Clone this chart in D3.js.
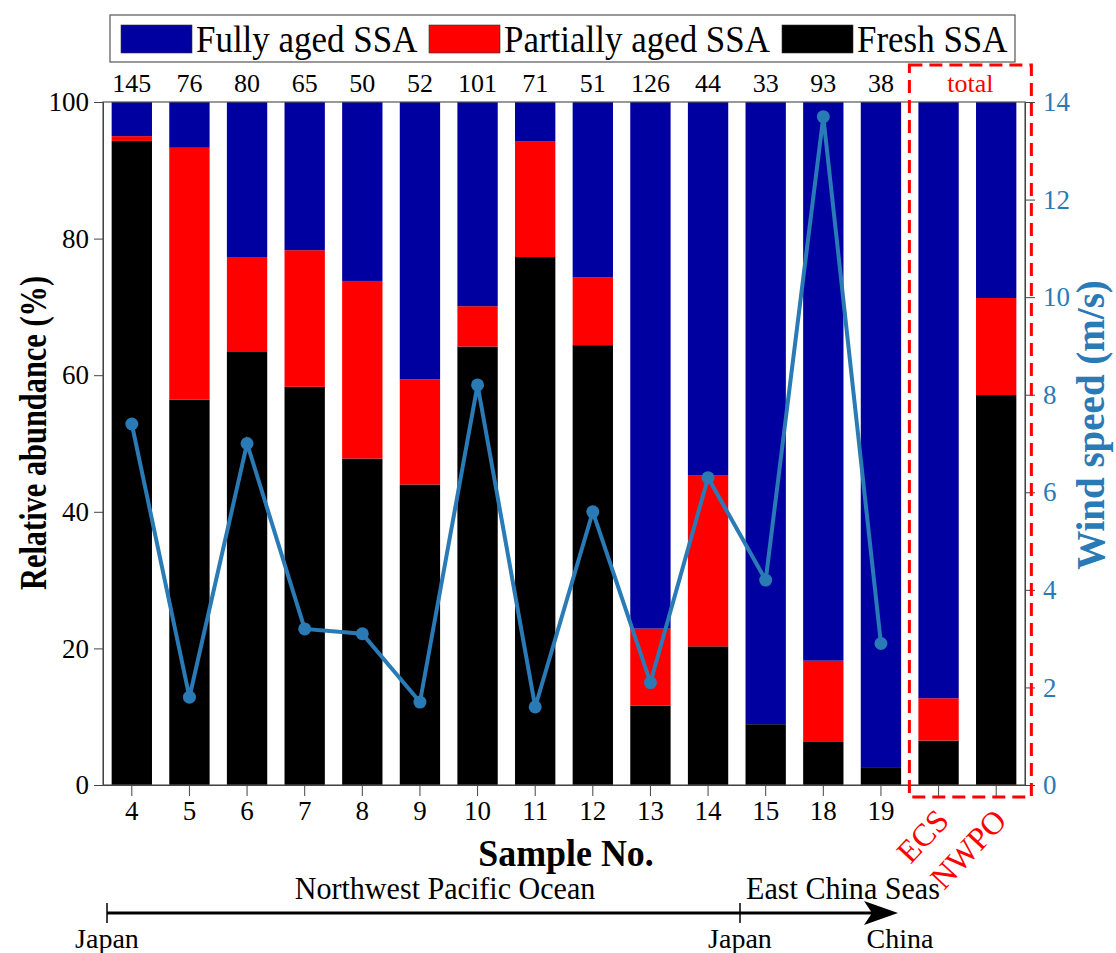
<!DOCTYPE html>
<html>
<head>
<meta charset="utf-8">
<script src="https://cdn.jsdelivr.net/npm/d3@7"></script>
<style>
  body { margin: 0; background: #fff; }
  text { font-family: "Liberation Serif", "Times New Roman", serif; }
</style>
</head>
<body>
<div id="chart"></div>
<script>
// data
const samples = ["4", "5", "6", "7", "8", "9", "10", "11", "12", "13", "14", "15", "18", "19", "ECS", "NWPO"];
const counts = [145, 76, 80, 65, 50, 52, 101, 71, 51, 126, 44, 33, 93, 38];
const fresh = [94.3, 56.4, 63.5, 58.3, 47.8, 44.0, 64.2, 77.3, 64.4, 11.6, 20.3, 8.9, 6.3, 2.5, 6.5, 57.1];
const partial = [0.7, 36.9, 13.8, 20.0, 26.0, 15.4, 5.9, 16.9, 9.9, 11.3, 25.0, 0, 11.9, 0, 6.2, 14.2];
const windSpeed = [7.4, 1.8, 7.0, 3.2, 3.1, 1.7, 8.2, 1.6, 5.6, 2.1, 6.3, 4.2, 13.7, 2.9];
const leftTicks = [0, 20, 40, 60, 80, 100];
const rightTicks = [0, 2, 4, 6, 8, 10, 12, 14];
const seriesNames = ["Fully aged SSA", "Partially aged SSA", "Fresh SSA"];
const seriesColors = ["#0000a0", "#ff0000", "#000000"];

const W = 1116, H = 953;
const margin = {top: 102, right: 91, bottom: 168, left: 103};
const width = W - margin.left - margin.right;
const height = H - margin.top - margin.bottom;
const windColor = "#2a7ab6";

const svg = d3.select("#chart").append("svg")
    .attr("width", W)
    .attr("height", H);

const g = svg.append("g")
    .attr("transform", `translate(${margin.left},${margin.top})`);

const x = d3.scaleBand()
    .domain(samples)
    .range([0, width])
    .paddingInner(0.3)
    .paddingOuter(0.15);

const y = d3.scaleLinear().domain([0, 100]).range([height, 0]);
const y2 = d3.scaleLinear().domain([0, 14]).range([height, 0]);

// stacked data
let rows = samples.map((s, i) => ({
    sample: s,
    fresh: fresh[i],
    partial: partial[i],
    full: 100 - fresh[i] - partial[i]
}));
const stack = d3.stack().keys(["fresh", "partial", "full"]);
const layers = stack(rows);
const layerColor = {fresh: "#000000", partial: "#ff0000", full: "#0000a0"};

g.selectAll("g.layer")
    .data(layers)
    .enter()
    .append("g")
    .attr("class", "layer")
    .attr("fill", d => layerColor[d.key])
    .selectAll("rect")
    .data(d => d)
    .enter()
    .append("rect")
    .attr("x", d => x(d.data.sample))
    .attr("width", x.bandwidth())
    .attr("y", d => y(d[1]))
    .attr("height", d => y(d[0]) - y(d[1]));

// frame
g.append("rect")
    .attr("width", width)
    .attr("height", height)
    .attr("fill", "none")
    .attr("stroke", "#555")
    .attr("stroke-width", 1.2);

// left axis
let yAxis = g.append("g")
    .call(d3.axisLeft(y).tickValues(leftTicks).tickSize(9).tickPadding(5));
yAxis.selectAll("text").attr("font-size", 27).attr("fill", "#000")
    .style("font-family", "Liberation Serif");
yAxis.selectAll("line, path").attr("stroke", "#444");

// right axis
let y2Axis = g.append("g")
    .attr("transform", `translate(${width},0)`)
    .call(d3.axisRight(y2).tickValues(rightTicks).tickSize(10).tickPadding(8));
y2Axis.selectAll("text").attr("font-size", 27).attr("fill", windColor)
    .style("font-family", "Liberation Serif");
y2Axis.selectAll("line, path").attr("stroke", "#444");

// bottom axis
let xAxis = g.append("g")
    .attr("transform", `translate(0,${height})`)
    .call(d3.axisBottom(x).tickSize(11).tickPadding(5).tickSizeOuter(0));
xAxis.selectAll("line, path").attr("stroke", "#444");
xAxis.selectAll("text")
    .attr("font-size", 27)
    .attr("fill", "#000")
    .style("font-family", "Liberation Serif");
xAxis.selectAll(".tick")
    .filter(d => d === "ECS" || d === "NWPO")
    .select("text")
    .attr("fill", "#ff0000")
    .attr("font-size", 32)
    .attr("text-anchor", "end")
    .attr("dy", 0)
    .attr("x", 0)
    .attr("y", 0)
    .attr("transform", "translate(12,37) rotate(-47)");

// count labels on top
g.selectAll("text.count")
    .data(counts)
    .enter()
    .append("text")
    .attr("class", "count")
    .attr("x", (d, i) => x(samples[i]) + x.bandwidth() / 2)
    .attr("y", -10)
    .attr("text-anchor", "middle")
    .attr("font-size", 26)
    .text(d => d);

// total box
let bx0 = x("ECS") - 9, bx1 = x("NWPO") + x.bandwidth() + 15;
g.append("rect")
    .attr("x", bx0)
    .attr("y", -37)
    .attr("width", bx1 - bx0)
    .attr("height", height + 49)
    .attr("fill", "none")
    .attr("stroke", "#ff0000")
    .attr("stroke-width", 3)
    .attr("stroke-dasharray", "13,7");
g.append("text")
    .attr("x", (bx0 + bx1) / 2)
    .attr("y", -10)
    .attr("text-anchor", "middle")
    .attr("font-size", 26)
    .attr("fill", "#ff0000")
    .text("total");

// wind speed line
let line = d3.line()
    .x((d, i) => x(samples[i]) + x.bandwidth() / 2)
    .y(d => y2(d));
g.append("path")
    .datum(windSpeed)
    .attr("d", line)
    .attr("fill", "none")
    .attr("stroke", windColor)
    .attr("stroke-width", 4);
g.selectAll("circle.wind")
    .data(windSpeed)
    .enter()
    .append("circle")
    .attr("class", "wind")
    .attr("cx", (d, i) => x(samples[i]) + x.bandwidth() / 2)
    .attr("cy", d => y2(d))
    .attr("r", 6.5)
    .attr("fill", windColor);

// axis titles (the original font is narrow, hence the x squeeze)
svg.append("text")
    .attr("transform", `translate(46,433) rotate(-90) scale(0.8,1)`)
    .attr("text-anchor", "middle")
    .attr("font-size", 38)
    .attr("font-weight", "bold")
    .text("Relative abundance (%)");

svg.append("text")
    .attr("transform", `translate(1104,425) rotate(-90)`)
    .attr("text-anchor", "middle")
    .attr("font-size", 39)
    .attr("font-weight", "bold")
    .attr("fill", windColor)
    .text("Wind speed (m/s)");

svg.append("text")
    .attr("transform", "translate(566,866) scale(0.97,1)")
    .attr("text-anchor", "middle")
    .attr("font-size", 37)
    .attr("font-weight", "bold")
    .text("Sample No.");

// legend
let legend = svg.append("g");
legend.append("rect")
    .attr("x", 110).attr("y", 15)
    .attr("width", 905).attr("height", 47)
    .attr("fill", "#fff")
    .attr("stroke", "#555")
    .attr("stroke-width", 1.2);
let legendX = [121, 429, 782];
seriesNames.forEach((name, i) => {
    legend.append("rect")
        .attr("x", legendX[i]).attr("y", 25)
        .attr("width", 71).attr("height", 28)
        .attr("fill", seriesColors[i])
        .attr("stroke", "#333")
        .attr("stroke-width", 0.6);
    legend.append("text")
        .attr("transform", `translate(${legendX[i] + 75},52) scale(0.92,1)`)
        .attr("font-size", 38)
        .text(name);
});

// route arrow at the bottom
let route = svg.append("g");
let ax0 = 107, ax1 = 898, ay = 913;
route.append("line")
    .attr("x1", ax0).attr("x2", ax1 - 20)
    .attr("y1", ay).attr("y2", ay)
    .attr("stroke", "#000").attr("stroke-width", 3);
route.append("path")
    .attr("d", `M${ax1},${ay} L${ax1 - 34},${ay - 12} L${ax1 - 26},${ay} L${ax1 - 34},${ay + 12} Z`)
    .attr("fill", "#000");
[ax0, 740].forEach(px => {
    route.append("line")
        .attr("x1", px).attr("x2", px)
        .attr("y1", ay - 10).attr("y2", ay + 10)
        .attr("stroke", "#000").attr("stroke-width", 1.5);
});
route.append("text").attr("transform", "translate(445,899) scale(0.94,1)")
    .attr("text-anchor", "middle").attr("font-size", 32).text("Northwest Pacific Ocean");
route.append("text").attr("transform", "translate(843,899) scale(0.94,1)")
    .attr("text-anchor", "middle").attr("font-size", 32).text("East China Seas");
route.append("text").attr("x", ax0).attr("y", 948)
    .attr("text-anchor", "middle").attr("font-size", 28).text("Japan");
route.append("text").attr("x", 740).attr("y", 948)
    .attr("text-anchor", "middle").attr("font-size", 28).text("Japan");
route.append("text").attr("x", 900).attr("y", 948)
    .attr("text-anchor", "middle").attr("font-size", 28).text("China");
</script>
</body>
</html>
